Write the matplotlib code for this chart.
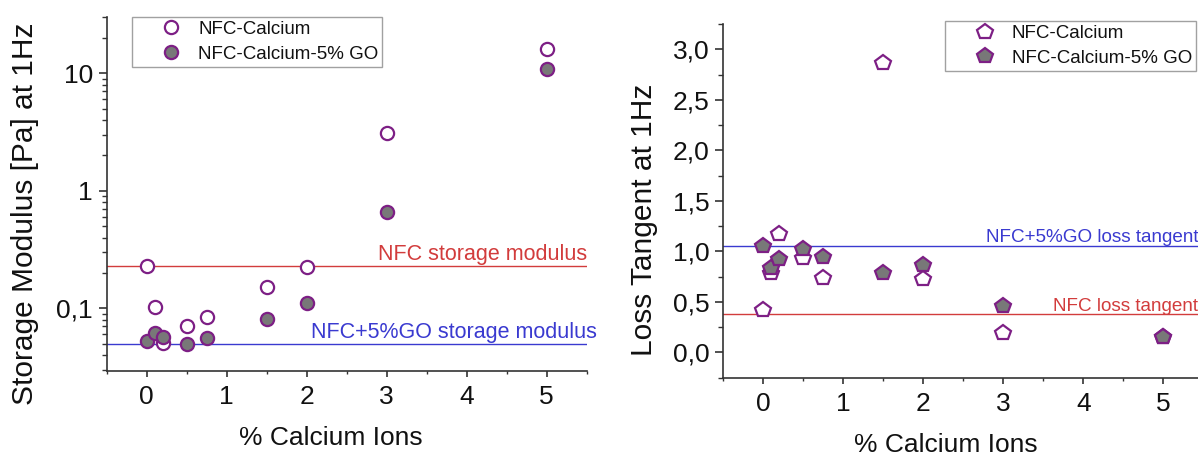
import matplotlib
matplotlib.use("Agg")
import matplotlib.pyplot as plt
from matplotlib.ticker import FixedLocator, MultipleLocator, FuncFormatter, LogLocator, NullFormatter

plt.rcParams['font.family'] = ['Liberation Sans', 'DejaVu Sans']

# ---- data ----
calcium = [0, 0.1, 0.2, 0.5, 0.75, 1.5, 2, 3, 5]
storage_nfc = [0.229, 0.103, 0.0503, 0.0706, 0.0848, 0.151, 0.226, 3.08, 16.1]
storage_go = [0.053, 0.0612, 0.0566, 0.0494, 0.0562, 0.081, 0.110, 0.664, 10.8]
storage_ref_nfc = 0.229
storage_ref_go = 0.050

loss_nfc = [0.42, 0.786, 1.176, 0.938, 0.74, 2.868, 0.73, 0.195, 0.15]
loss_go = [1.05, 0.839, 0.925, 1.028, 0.945, 0.786, 0.862, 0.459, 0.152]
loss_ref_go = 1.052
loss_ref_nfc = 0.381

legend_labels = ["NFC-Calcium", "NFC-Calcium-5% GO"]
xlabel = "% Calcium Ions"
ylabel_left = "Storage Modulus [Pa] at 1Hz"
ylabel_right = "Loss Tangent at 1Hz"

# ---- styles ----
PURPLE = "#7d1f85"
GRAY = "#787878"
RED = "#d23c3c"
BLUE = "#3a3ad0"
SPINE = "#333333"
TXT = "#111111"
W, H = 1198, 455

fig = plt.figure(figsize=(W / 100, H / 100), dpi=100)


def px(x, y):
    return x / W, 1 - y / H


def style_axes(ax):
    for s in ['top', 'right']:
        ax.spines[s].set_visible(False)
    for s in ['left', 'bottom']:
        ax.spines[s].set_color(SPINE)
        ax.spines[s].set_linewidth(1.2)
    ax.tick_params(axis='y', which='major', direction='out', length=6, width=1.2, colors=SPINE,
                   labelsize=19, labelcolor=TXT, pad=4)
    ax.tick_params(axis='y', which='minor', direction='out', length=3.7, width=1.0, colors=SPINE)
    ax.tick_params(axis='x', which='major', direction='out', length=4, width=1.2, colors=SPINE,
                   labelsize=19, labelcolor=TXT, pad=6)
    ax.tick_params(axis='x', which='minor', direction='out', length=2.2, width=1.0, colors=SPINE)
    ax.xaxis.set_major_locator(MultipleLocator(1))
    ax.xaxis.set_minor_locator(MultipleLocator(0.5))


def add_legend(ax, anchor, loc):
    leg = ax.legend(loc=loc, bbox_to_anchor=anchor, bbox_transform=fig.transFigure,
                    borderaxespad=0, fontsize=13.5, frameon=True, fancybox=False,
                    edgecolor='#8a8a8a', borderpad=0.22, labelspacing=0.4,
                    handlelength=3.76, handletextpad=-0.44)
    leg.get_frame().set_linewidth(1.0)
    for t in leg.get_texts():
        t.set_color(TXT)
    return leg


# ---- left panel ----
l, b = px(106.7, 370.7)
ax1 = fig.add_axes([l, b, 480 / W, 354 / H])
ax1.set_yscale('log')
ax1.set_xlim(-0.5, 5.5)
ax1.set_ylim(0.0294, 30.3)
ax1.plot(calcium, storage_nfc, linestyle='none', marker='o', markersize=9.5,
         markerfacecolor='white', markeredgecolor=PURPLE, markeredgewidth=1.6,
         label=legend_labels[0], zorder=3)
ax1.plot(calcium, storage_go, linestyle='none', marker='o', markersize=9.5,
         markerfacecolor=GRAY, markeredgecolor=PURPLE, markeredgewidth=1.6,
         label=legend_labels[1], zorder=4)
ax1.axhline(storage_ref_nfc, color=RED, lw=1.0, zorder=2)
ax1.axhline(storage_ref_go, color=BLUE, lw=1.0, zorder=2)
ax1.annotate("NFC storage modulus", xy=(5.5, storage_ref_nfc), xytext=(0, 4),
             textcoords='offset points', color=RED, fontsize=15.5,
             ha='right', va='baseline', annotation_clip=False)
ax1.annotate("NFC+5%GO storage modulus", xy=(5.63, storage_ref_go), xytext=(0, 4),
             textcoords='offset points', color=BLUE, fontsize=15.5,
             ha='right', va='baseline', annotation_clip=False)
style_axes(ax1)
ax1.yaxis.set_major_locator(FixedLocator([0.1, 1, 10]))
ax1.yaxis.set_major_formatter(FuncFormatter(
    lambda v, p: ("%g" % v).replace('.', ',') if v < 1 else "%d" % round(v)))
ax1.yaxis.set_minor_locator(LogLocator(base=10, subs=range(2, 10)))
ax1.yaxis.set_minor_formatter(NullFormatter())
add_legend(ax1, px(131.7, 16.7), 'upper left')

# ---- right panel ----
l2, b2 = px(723.3, 377.7)
ax2 = fig.add_axes([l2, b2, 480 / W, 353.7 / H])
ax2.set_xlim(-0.5, 5.5)
ax2.set_ylim(-0.25, 3.25)
ax2.plot(calcium, loss_nfc, linestyle='none', marker='p', markersize=11.5,
         markerfacecolor='white', markeredgecolor=PURPLE, markeredgewidth=1.6,
         label=legend_labels[0], zorder=3)
ax2.plot(calcium, loss_go, linestyle='none', marker='p', markersize=11.5,
         markerfacecolor=GRAY, markeredgecolor=PURPLE, markeredgewidth=1.6,
         label=legend_labels[1], zorder=4)
ax2.axhline(loss_ref_go, color=BLUE, lw=1.0, zorder=2)
ax2.axhline(loss_ref_nfc, color=RED, lw=1.0, zorder=2)
ax2.annotate("NFC+5%GO loss tangent", xy=(5.434, loss_ref_go), xytext=(0, 3),
             textcoords='offset points', color=BLUE, fontsize=13.6,
             ha='right', va='baseline', annotation_clip=False)
ax2.annotate("NFC loss tangent", xy=(5.434, loss_ref_nfc), xytext=(0, 2),
             textcoords='offset points', color=RED, fontsize=13.6,
             ha='right', va='baseline', annotation_clip=False)
style_axes(ax2)
ax2.yaxis.set_major_locator(MultipleLocator(0.5))
ax2.yaxis.set_minor_locator(MultipleLocator(0.25))
ax2.yaxis.set_major_formatter(FuncFormatter(lambda v, p: ("%.1f" % v).replace('.', ',')))
add_legend(ax2, px(1196, 21), 'upper right')

# ---- axis titles ----
fig.text(*px(25.5, 214), ylabel_left, rotation=90, fontsize=21.5, color=TXT,
         ha='center', va='center')
fig.text(*px(644, 220), ylabel_right, rotation=90, fontsize=21.5, color=TXT,
         ha='center', va='center')
fig.text(*px(331, 445), xlabel, fontsize=19, color=TXT, ha='center', va='baseline')
fig.text(*px(946, 452), xlabel, fontsize=19, color=TXT, ha='center', va='baseline')

fig.savefig("out.png", dpi=100)
